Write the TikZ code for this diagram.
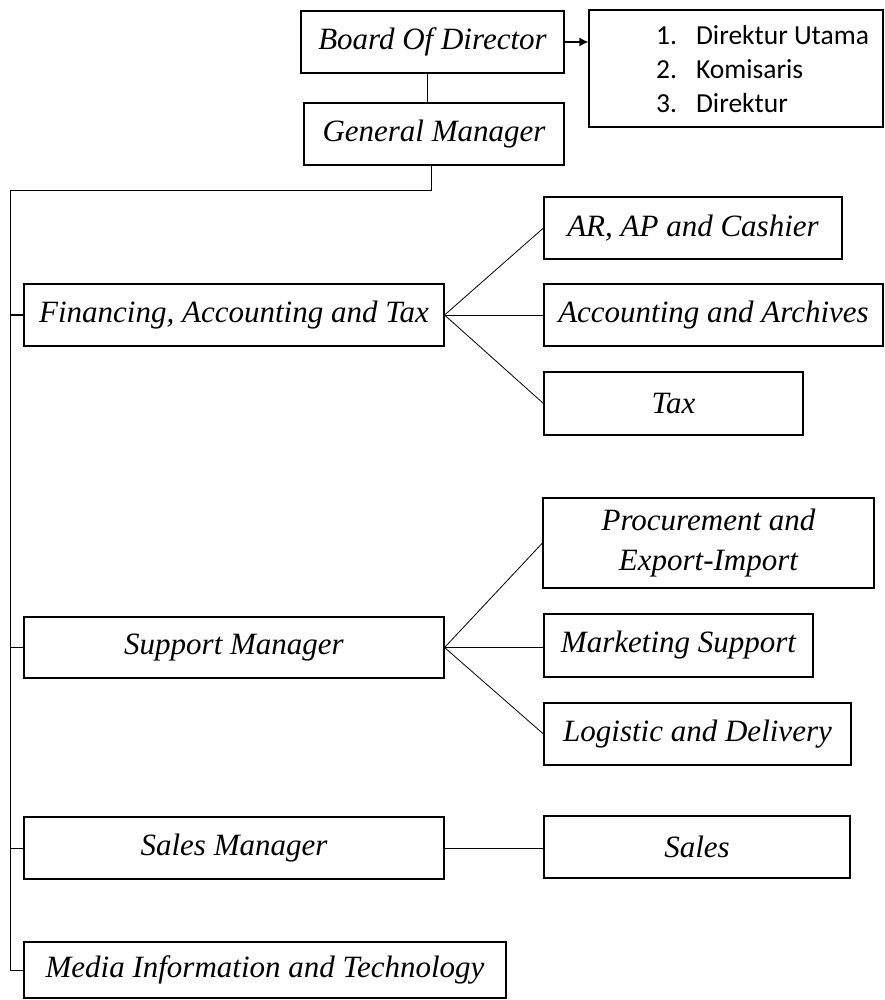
\documentclass[tikz,border=0pt]{standalone}
\usepackage{fontspec}
\setmainfont{Liberation Serif}
\newfontfamily\calib{Carlito}
\usetikzlibrary{arrows.meta,calc}
\tikzset{
  box/.style={draw, line width=1.1pt, inner sep=0pt, align=center,
    font=\fontsize{31}{40}\selectfont\itshape},
  link/.style={line width=0.8pt},
  tick/.style={line width=1.2pt}
}
\begin{document}
\begin{tikzpicture}[x=1pt,y=-1pt]
\useasboundingbox (0,0) rectangle (884,1000);
\clip (0,0) rectangle (884,1000);
% top
\node[box, minimum width=263, minimum height=62] (bod) at (432.5,42) {Board Of Director};
\node[box, minimum width=260, minimum height=62] (gm) at (434,134) {General Manager};
\node[box, minimum width=294, minimum height=117] (dir) at (736,68.5) {};
\node[anchor=north west, inner sep=0pt, font=\calib\fontsize{27.5}{34}\selectfont] (list) at (656,21)
  {\begin{tabular}{@{}l@{\hspace{19pt}}l@{}}1.&Direktur Utama\\2.&Komisaris\\3.&Direktur\end{tabular}};
% level 1
\node[box, minimum width=420, minimum height=62] (fin) at (234,315) {Financing, Accounting and Tax};
\node[box, minimum width=420, minimum height=61] (sup) at (234,647.5) {Support Manager};
\node[box, minimum width=420, minimum height=62] (sm) at (234,848) {Sales Manager};
\node[box, minimum width=482, minimum height=56] (media) at (265,970) {Media Information and Technology};
% level 2
\node[box, minimum width=298, minimum height=62] (ar) at (693,228) {AR, AP and Cashier};
\node[box, minimum width=339, minimum height=62] (acc) at (713.5,315) {Accounting and Archives};
\node[box, minimum width=259, minimum height=63] (tax) at (673.5,403.5) {Tax};
\node[box, minimum width=331, minimum height=90] (proc) at (708.5,543) {Procurement and\\Export-Import};
\node[box, minimum width=269, minimum height=63] (mkt) at (678.5,645.5) {Marketing Support};
\node[box, minimum width=307, minimum height=62] (log) at (697.5,734) {Logistic and Delivery};
\node[box, minimum width=306, minimum height=62] (sales) at (697,847) {Sales};
% connectors
\coordinate (cx) at (427,0);
\coordinate (gx) at (431,0);
\coordinate (top) at (10,190);
\draw[link] (bod.south -| cx) -- (gm.north -| cx);
\draw[line width=1.5pt, -{Latex[length=9pt,width=9pt]}] (bod.east) -- (dir.west |- bod.east);
\draw[link] (gm.south -| gx) |- (top) -- (top |- media.west) -- (media.west);
\draw[tick] (top |- fin.west) -- (fin.west);
\draw[link] (top |- sup.west) -- (sup.west);
\draw[link] (top |- sm.west) -- (sm.west);
\draw[link] (fin.east) -- (ar.west);
\draw[link] (fin.east) -- (acc.west);
\draw[link] (fin.east) -- (tax.west);
\draw[link] (sup.east) -- (proc.west);
\draw[link] (sup.east) -- (sup.east -| mkt.west);
\draw[link] (sup.east) -- (log.west);
\draw[link] (sm.east) -- (sm.east -| sales.west);
\end{tikzpicture}
\end{document}
